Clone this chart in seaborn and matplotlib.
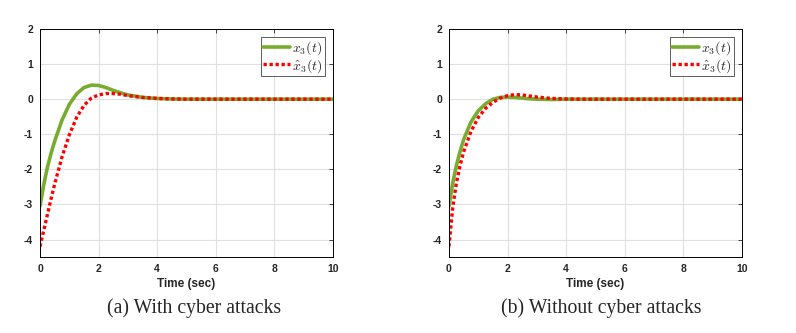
import numpy as np
import pandas as pd
import matplotlib
matplotlib.use("Agg")
import matplotlib.pyplot as plt
import seaborn as sns

# tiempos y valores
t = [0, 0.125, 0.25, 0.375, 0.5, 0.75, 1.0, 1.25, 1.5, 1.75, 2.0, 2.25, 2.5, 2.75, 3.0, 3.5, 4.0, 4.5, 5.0, 6.0, 7.0, 8.0, 9.0, 10.0]

# (a) con ciberataques
x3_a = [-3.05, -2.45, -1.95, -1.55, -1.2, -0.6, -0.15, 0.15, 0.33, 0.40, 0.39, 0.33, 0.25, 0.18, 0.12, 0.05, 0.02, 0.005, 0, 0, 0, 0, 0, 0]
xh_a = [-4.2, -3.75, -3.3, -2.85, -2.42, -1.65, -1.02, -0.52, -0.18, 0.03, 0.12, 0.16, 0.16, 0.14, 0.10, 0.05, 0.02, 0.005, 0, 0, 0, 0, 0, 0]

# (b) sin ciberataques
x3_b = [-3.05, -2.4, -1.9, -1.5, -1.15, -0.65, -0.33, -0.13, 0.0, 0.05, 0.06, 0.05, 0.03, 0.01, 0.0, -0.01, 0, 0, 0, 0, 0, 0, 0, 0]
xh_b = [-4.2, -3.1, -2.4, -1.9, -1.5, -0.92, -0.52, -0.26, -0.09, 0.03, 0.10, 0.13, 0.12, 0.09, 0.06, 0.02, 0.005, 0, 0, 0, 0, 0, 0, 0]

captions = ["(a) With cyber attacks", "(b) Without cyber attacks"]

sns.set_style("white")
plt.rcParams['mathtext.fontset'] = 'cm'
plt.rcParams['axes.unicode_minus'] = False

fig = plt.figure(figsize=(7.96, 3.33), dpi=100)
lefts = [40 / 796, 449 / 796]
cap_x = [194 / 796, 601 / 796]
series = [(x3_a, xh_a), (x3_b, xh_b)]

for i in range(2):
    ax = fig.add_axes([lefts[i], 0.228, 293 / 796, 0.685])
    df = pd.DataFrame({'t': t, 'x3': series[i][0], 'xh': series[i][1]})
    sns.lineplot(data=df, x='t', y='x3', ax=ax, color='#77AC30', lw=2.6, label=r'$x_3(t)$')
    sns.lineplot(data=df, x='t', y='xh', ax=ax, color='#FF0000', lw=2.4, ls=(0, (1, 0.8)), label=r'$\hat{x}_3(t)$')
    ax.set_xlim(0, 10)
    ax.set_ylim(-4.5, 2)
    ax.set_xticks([0, 2, 4, 6, 8, 10])
    ax.set_yticks([-4, -3, -2, -1, 0, 1, 2])
    ax.grid(True, color='#e0e0e0', lw=0.8)
    ax.tick_params(direction='in', length=3, width=0.6, top=True, right=True, labelsize=7.5, pad=5)
    for lab in ax.get_xticklabels() + ax.get_yticklabels():
        lab.set_fontweight('bold')
        lab.set_family('Liberation Sans')
    for s in ax.spines.values():
        s.set_color('black')
        s.set_linewidth(0.7)
    ax.set_xlabel('Time (sec)', fontsize=8.5, fontweight='bold', family='Liberation Sans', labelpad=3)
    ax.set_ylabel('')
    leg = ax.legend(loc='upper right', fontsize=10, frameon=True, fancybox=False, handlelength=1.9,
                    borderpad=0.12, labelspacing=0.0, handletextpad=0.2, borderaxespad=0.6)
    leg.get_frame().set_edgecolor('#333333')
    leg.get_frame().set_linewidth(0.7)
    fig.text(cap_x[i], 1 - 308 / 333, captions[i], ha='center', va='center',
             fontsize=14.2, family='Liberation Serif')

fig.savefig('out.png', dpi=100)
